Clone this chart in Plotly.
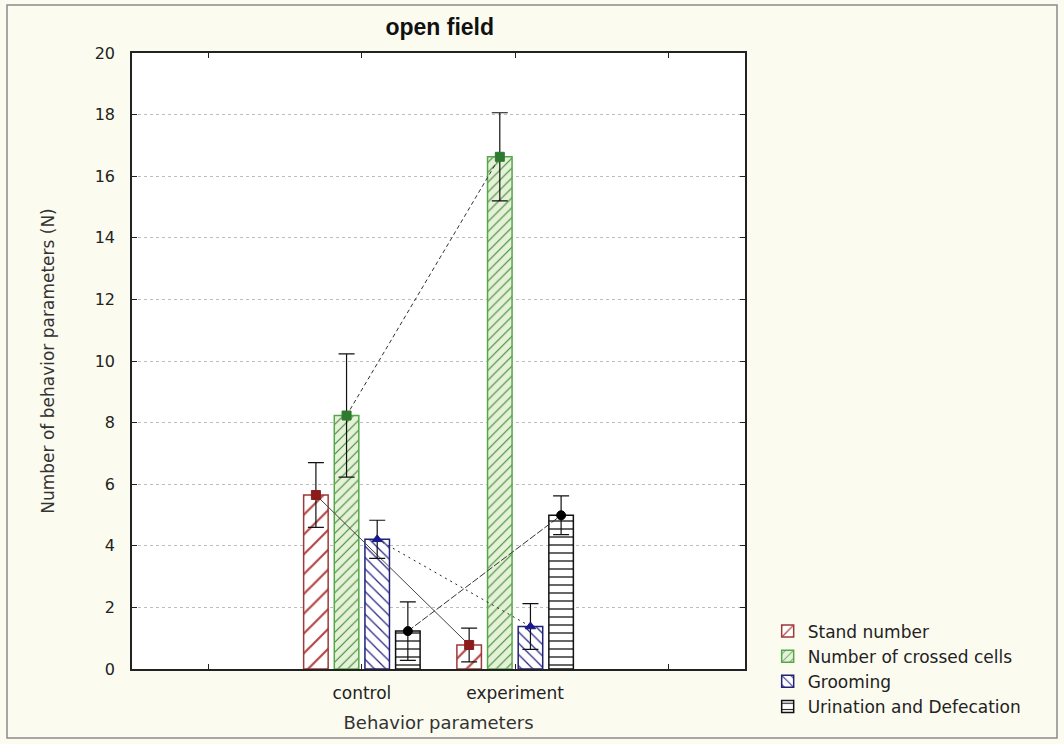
import plotly.graph_objects as go

# Group labels on the x axis
categories = ["control", "experiment"]

# Behaviour measures (one bar per measure in each group)
series_names = [
    "Stand number",
    "Number of crossed cells",
    "Grooming",
    "Urination and Defecation",
]

# Means and error half-widths for control / experiment
stand_mean = [5.65, 0.78]
stand_err = [1.05, 0.55]
crossed_mean = [8.23, 16.63]
crossed_err = [2.00, 1.43]
grooming_mean = [4.21, 1.38]
grooming_err = [0.62, 0.74]
urination_mean = [1.23, 4.99]
urination_err = [0.95, 0.63]

y_ticks = [0, 2, 4, 6, 8, 10, 12, 14, 16, 18, 20]

means = [stand_mean, crossed_mean, grooming_mean, urination_mean]
errors = [stand_err, crossed_err, grooming_err, urination_err]

# Visual style of each measure
styles = [
    dict(line="#9C3A3A", fg="#B54848", bg="#FFFFFF", shape="/", size=14,
         marker="#8A1C1C", symbol="square", dash="solid", link="#444444"),
    dict(line="#55A84A", fg="#3E8A36", bg="#E6F2D8", shape="/", size=7,
         marker="#2E7A2E", symbol="square", dash="4px,3px", link="#333333"),
    dict(line="#222277", fg="#28288A", bg="#FFFFFF", shape="\\", size=8,
         marker="#1A1A8A", symbol="triangle-up", dash="2px,4px", link="#222222"),
    dict(line="#111111", fg="#111111", bg="#FFFFFF", shape="-", size=8,
         marker="#000000", symbol="circle", dash="7px,2px", link="#333333"),
]

group_pos = [i + 1 for i in range(len(categories))]
slot_step = 0.2
bar_width = 0.16
n = len(series_names)

fig = go.Figure()

for k, (name, m, e, st) in enumerate(zip(series_names, means, errors, styles)):
    offset = (k - (n - 1) / 2) * slot_step
    xs = [g + offset for g in group_pos]
    fig.add_trace(go.Bar(
        x=xs, y=m, width=bar_width, name=name,
        marker=dict(
            color=st["bg"],
            line=dict(color=st["line"], width=1.5),
            pattern=dict(shape=st["shape"], size=st["size"], solidity=0.16,
                         fgcolor=st["fg"], bgcolor=st["bg"], fillmode="replace"),
        ),
        showlegend=True,
    ))

for k, (name, m, e, st) in enumerate(zip(series_names, means, errors, styles)):
    offset = (k - (n - 1) / 2) * slot_step
    xs = [g + offset for g in group_pos]
    fig.add_trace(go.Scatter(
        x=xs, y=m, mode="lines+markers", showlegend=False, name=name,
        line=dict(color=st["link"], width=1, dash=st["dash"]),
        marker=dict(color=st["marker"], symbol=st["symbol"], size=9,
                    line=dict(color=st["marker"], width=1)),
        error_y=dict(type="data", array=e, visible=True, color="#111111",
                     thickness=1.2, width=8),
    ))

fig.update_layout(
    width=1064, height=744,
    margin=dict(l=132, r=319, t=53, b=75, pad=0),
    paper_bgcolor="#FCFBF0",
    plot_bgcolor="#FFFFFF",
    barmode="overlay",
    title=dict(text="<b>open field</b>", x=0.502, xref="paper", xanchor="center",
               y=1 - 27 / 744, yanchor="middle", yref="container",
               font=dict(family="Liberation Sans", size=23, color="#111111")),
    font=dict(family="DejaVu Sans", color="#222222"),
    legend=dict(x=1.037, y=0.09, xanchor="left", yanchor="top",
                bgcolor="rgba(0,0,0,0)",
                font=dict(family="DejaVu Sans", size=17, color="#222222"),
                tracegroupgap=0, itemwidth=30),
    xaxis=dict(
        range=[-0.5, len(categories) + 1.5],
        tickmode="array",
        tickvals=list(range(len(categories) + 2)),
        ticktext=[""] + categories + [""],
        ticks="inside", ticklen=5, tickcolor="#222222", tickwidth=1.2,
        showline=True, linecolor="#222222", linewidth=1.5, mirror="ticks",
        showgrid=False, zeroline=False,
        tickfont=dict(family="DejaVu Sans", size=17, color="#222222"),
        ticklabelstandoff=8,
        title=dict(text="Behavior parameters", standoff=14,
                   font=dict(family="DejaVu Sans", size=18, color="#333333")),
    ),
    yaxis=dict(
        range=[0, 20],
        tickmode="array", tickvals=y_ticks,
        ticks="inside", ticklen=5, tickcolor="#222222", tickwidth=1.2,
        showline=True, linecolor="#222222", linewidth=1.5, mirror="ticks",
        showgrid=True, gridcolor="#BDBDBD", griddash="dot", gridwidth=1,
        zeroline=False,
        tickfont=dict(family="DejaVu Sans", size=16, color="#222222"),
        ticklabelstandoff=12,
        title=dict(text="Number of behavior parameters (N)", standoff=36,
                   font=dict(family="DejaVu Sans", size=17, color="#333333")),
    ),
    shapes=[dict(type="rect", xref="paper", yref="paper",
                 x0=(7 - 132) / 613, x1=(1057 - 132) / 613,
                 y0=(669 - 738) / 616, y1=(669 - 5) / 616,
                 line=dict(color="#8A8A8A", width=1.5), layer="below")],
)

fig.write_html("out.html")
